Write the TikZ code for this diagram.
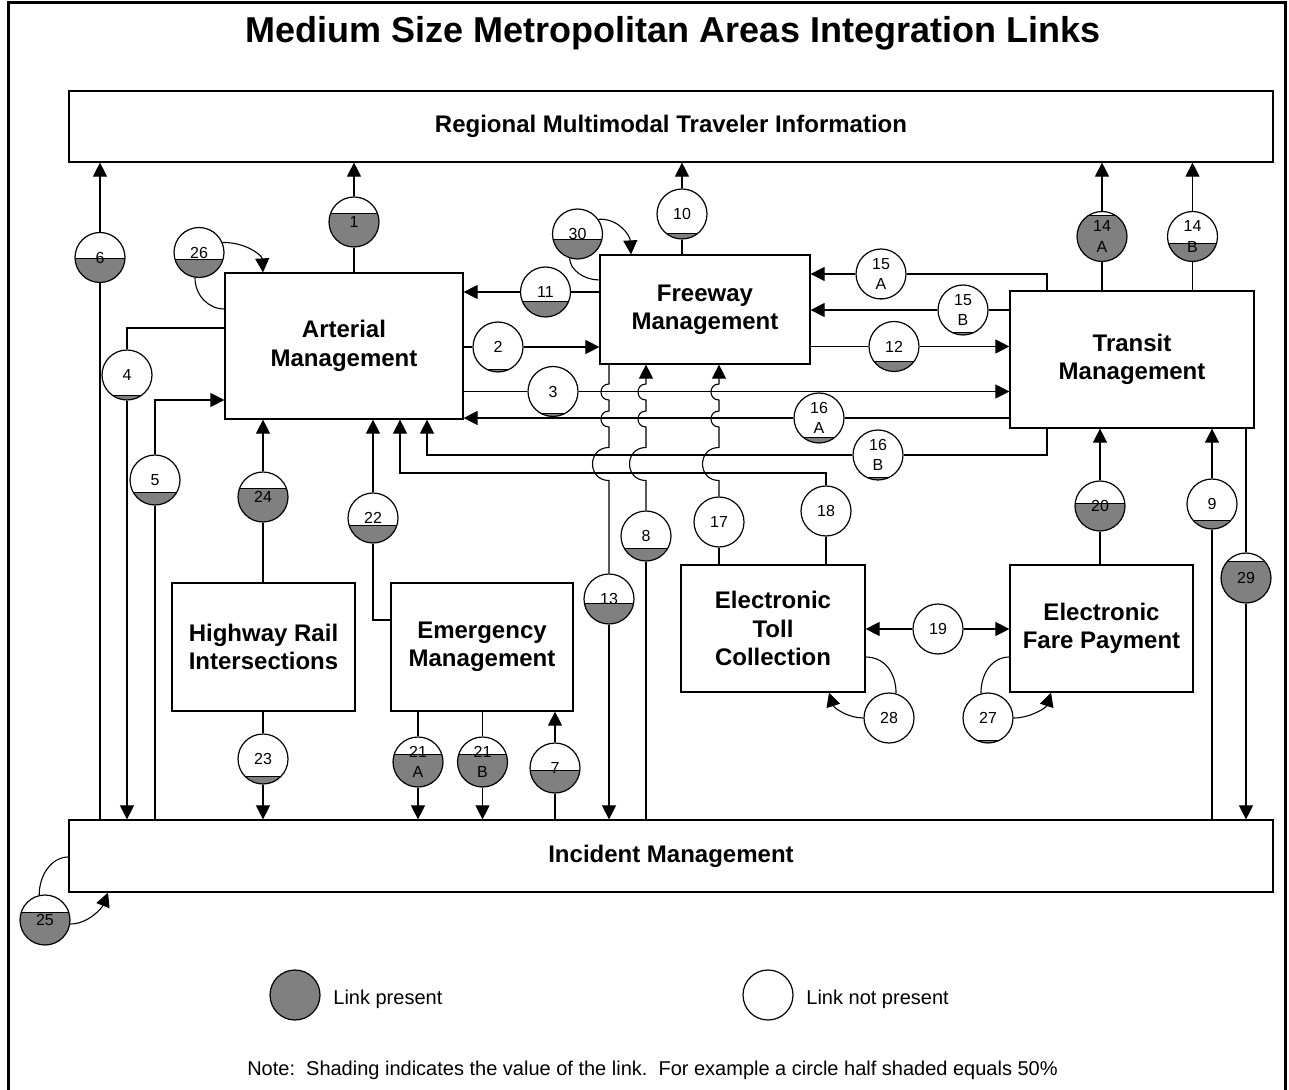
\documentclass[tikz,border=0pt]{standalone}
\usepackage{fontspec}
\setmainfont{Liberation Sans}
\usetikzlibrary{arrows.meta}
\newcommand\linkc[5]{\node[lk=#4] (#1) at (#2,#3) {#5};}
\begin{document}
\begin{tikzpicture}[x=0.5pt,y=-0.5pt,
  ln/.style={line width=0.55pt},
  arr/.style={ln,-{Triangle[length=7pt,width=7pt]}},
  box/.style={draw,line width=0.6pt,fill=white,align=center,inner sep=0pt,font=\fontsize{12}{14.2}\selectfont\bfseries},
  lk/.style={circle,draw,line width=0.6pt,fill=white,minimum size=25pt,inner sep=0pt,align=center,
    font=\fontsize{8}{10}\selectfont,
    path picture={\fill[gray] (path picture bounding box.south west) rectangle ([yshift=#1*25pt]path picture bounding box.south east);
      \draw[line width=0.5pt] ([yshift=#1*25pt]path picture bounding box.south west) -- ([yshift=#1*25pt]path picture bounding box.south east);}},
  lk/.default=0,
  legfull/.style={circle,draw,line width=0.6pt,fill=gray,minimum size=25pt,inner sep=0pt},
  legempty/.style={circle,draw,line width=0.6pt,fill=white,minimum size=25pt,inner sep=0pt},
  txt/.style={font=\fontsize{10}{12}\selectfont,inner sep=0pt}
]
\useasboundingbox (0,0) rectangle (1289,1090);
% frame
\draw[line width=1.4pt] (8.5,1100) -- (8.5,2.5) -- (1285.5,2.5) -- (1285.5,1100);
% title
\node[font=\fontsize{18}{22}\selectfont\bfseries,anchor=base,inner sep=0pt] (title) at (673,43) {Medium Size Metropolitan Areas Integration Links};

% boxes
\node[box,minimum width=602pt,minimum height=35.5pt] (reg) at (671,126.5) {Regional Multimodal Traveler Information};
\node[box,minimum width=602pt,minimum height=36pt] (inc) at (671,856) {Incident Management};
\node[box,minimum width=119pt,minimum height=73pt] (art) at (344,346) {Arterial\\Management};
\node[box,minimum width=105pt,minimum height=54.5pt] (fw) at (705,309.5) {Freeway\\Management};
\node[box,minimum width=122pt,minimum height=68.5pt] (tr) at (1132,359.5) {Transit\\Management};
\node[box,minimum width=91.5pt,minimum height=64pt] (hri) at (263.5,647) {Highway Rail\\Intersections};
\node[box,minimum width=91pt,minimum height=64pt] (em) at (482,647) {Emergency\\Management};
\node[box,minimum width=92pt,minimum height=63.5pt] (toll) at (773,628.5) {Electronic\\Toll\\Collection};
\node[box,minimum width=91.5pt,minimum height=63.5pt] (fare) at (1101.5,628.5) {Electronic\\Fare Payment};

% link circles
\linkc{c1}{354}{222}{0.66}{1}
\linkc{c2}{498}{347}{0.05}{2}
\linkc{c3}{553}{391.5}{0.05}{3}
\linkc{c4}{127}{375}{0.08}{4}
\linkc{c5}{155}{480}{0.25}{5}
\linkc{c6}{100}{257.5}{0.47}{6}
\linkc{c7}{555}{768}{0.46}{7}
\linkc{c8}{646}{536}{0.26}{8}
\linkc{c9}{1212}{504}{0.17}{9}
\linkc{c10}{682}{214}{0.1}{10}
\linkc{c11}{545.5}{292}{0.31}{11}
\linkc{c12}{894}{346.5}{0.2}{12}
\linkc{c13}{609}{599}{0.42}{13}
\linkc{c14a}{1102}{236.5}{0.91}{14\\A}
\linkc{c14b}{1192.5}{236.5}{0.35}{14\\B}
\linkc{c15a}{881}{274}{0}{15\\A}
\linkc{c15b}{963}{310}{0.05}{15\\B}
\linkc{c16a}{819}{418}{0.1}{16\\A}
\linkc{c16b}{878}{455}{0.05}{16\\B}
\linkc{c17}{719}{522}{0}{17}
\linkc{c18}{826}{511}{0}{18}
\linkc{c19}{938}{629}{0}{19}
\linkc{c20}{1100}{506}{0.55}{20}
\linkc{c21a}{418}{762}{0.65}{21\\A}
\linkc{c21b}{482.5}{762}{0.65}{21\\B}
\linkc{c22}{373}{518}{0.35}{22}
\linkc{c23}{263}{759}{0.15}{23}
\linkc{c24}{263}{497}{0.66}{24}
\linkc{c25}{45}{920}{0.66}{25}
\linkc{c26}{199}{252.5}{0.35}{26}
\linkc{c27}{988}{718}{0.05}{27}
\linkc{c28}{889}{718}{0}{28}
\linkc{c29}{1246}{578}{0.84}{29}
\linkc{c30}{577.5}{234}{0.38}{30}

% connectors to Regional
\draw[arr] (inc.north -| c6) -- (c6) -- (reg.south -| c6);
\draw[arr] (art.north -| c1) -- (c1) -- (reg.south -| c1);
\draw[arr] (fw.north -| c10) -- (c10) -- (reg.south -| c10);
\draw[arr] (tr.north -| c14a) -- (c14a) -- (reg.south -| c14a);
\draw[arr] (tr.north -| c14b) -- (c14b) -- (reg.south -| c14b);

% Arterial links
\draw[arr] (art.west |- 0,328) -- (c4 |- 0,328) -- (c4) -- (inc.north -| c4);
\draw[arr] (inc.north -| c5) -- (c5) -- (c5 |- 0,400) -- (art.west |- 0,400);
\draw[arr] (hri.north -| c24) -- (c24) -- (art.south -| c24);
\draw[arr] (em.west |- 0,620) -- (c22 |- 0,620) -- (c22) -- (art.south -| c22);
\draw[arr] (fw.west |- c11) -- (c11) -- (art.east |- c11);
\draw[arr] (art.east |- c2) -- (c2) -- (fw.west |- c2);
\draw[arr] (art.east |- c3) -- (c3) -- (tr.west |- c3);
\draw[arr] (tr.west |- c16a) -- (c16a) -- (art.east |- c16a);
\draw[arr] (tr.south -| 1047,0) -- (1047,455) -- (c16b) -- (427,455) -- (art.south -| 427,0);
\draw[arr] (toll.north -| c18) -- (c18) -- (c18 |- 0,473) -- (400,473) -- (art.south -| 400,0);

% Freeway / Transit links
\draw[arr] (tr.north -| 1047,0) -- (1047,274) -- (c15a) -- (fw.east |- c15a);
\draw[arr] (tr.west |- c15b) -- (c15b) -- (fw.east |- c15b);
\draw[arr] (fw.east |- c12) -- (c12) -- (tr.west |- c12);

% verticals with jumps
\draw[ln] (fw.south -| c13) -- (609,384) .. controls +(-10.7,0) and +(-10.7,0) .. ++(0,16)
  -- (609,411) .. controls +(-10.7,0) and +(-10.7,0) .. ++(0,16)
  -- (609,447.5) .. controls +(-22,0) and +(-22,0) .. ++(0,33) -- (c13);
\draw[arr] (c13) -- (inc.north -| c13);
\draw[ln] (inc.north -| c8) -- (c8);
\draw[arr] (c8) -- (646,480.5) .. controls +(-22,0) and +(-22,0) .. ++(0,-33)
  -- (646,427) .. controls +(-10.7,0) and +(-10.7,0) .. ++(0,-16)
  -- (646,400) .. controls +(-10.7,0) and +(-10.7,0) .. ++(0,-16) -- (fw.south -| c8);
\draw[ln] (toll.north -| c17) -- (c17);
\draw[arr] (c17) -- (719,480.5) .. controls +(-22,0) and +(-22,0) .. ++(0,-33)
  -- (719,427) .. controls +(-10.7,0) and +(-10.7,0) .. ++(0,-16)
  -- (719,400) .. controls +(-10.7,0) and +(-10.7,0) .. ++(0,-16) -- (fw.south -| c17);

% Transit lower links
\draw[arr] (fare.north -| c20) -- (c20) -- (tr.south -| c20);
\draw[arr] (inc.north -| c9) -- (c9) -- (tr.south -| c9);
\draw[arr] (tr.south -| c29) -- (c29) -- (inc.north -| c29);
\draw[arr] (c19) -- (toll.east |- c19);
\draw[arr] (c19) -- (fare.west |- c19);

% Incident links
\draw[arr] (hri.south -| c23) -- (c23) -- (inc.north -| c23);
\draw[arr] (em.south -| c21a) -- (c21a) -- (inc.north -| c21a);
\draw[arr] (em.south -| c21b) -- (c21b) -- (inc.north -| c21b);
\draw[arr] (inc.north -| c7) -- (c7) -- (em.south -| c7);

% self loops
\draw[ln] (art.west |- 0,309) .. controls (208,309) and (195,295) .. (c26.-99);
\draw[arr] (c26.23) .. controls (245,242) and (262,255) .. (art.north -| 263,0);
\draw[ln] (fw.west |- 0,280) .. controls (584,280) and (570,270) .. (c30.-108);
\draw[arr] (c30.35) .. controls (618,218) and (630,235) .. (fw.north -| 631,0);
\draw[ln] (toll.east |- 0,657) .. controls (884,657) and (896,672) .. (c28.74);
\draw[arr] (c28.180) .. controls (848,718) and (834,708) .. (toll.south -| 829,0);
\draw[ln] (fare.west |- 0,657) .. controls (993,657) and (981,672) .. (c27.106);
\draw[arr] (c27.0) .. controls (1030,718) and (1046,708) .. (fare.south -| 1051,0);
\draw[ln] (inc.west |- 0,857) .. controls (51,857) and (39,876) .. (c25.103);
\draw[arr] (c25.-9) .. controls (88,924) and (102,908) .. (inc.south -| 108,0);

% legend
\node[legfull] (leg1) at (295,995) {};
\node[txt,anchor=base west] (leg1t) at (333,1004) {Link present};
\node[legempty] (leg2) at (768,995) {};
\node[txt,anchor=base west] (leg2t) at (806,1004) {Link not present};
\node[txt,anchor=base] (note) at (652.5,1075) {Note:\ \ Shading indicates the value of the link.\ \ For example a circle half shaded equals 50\%};
\end{tikzpicture}
\end{document}
